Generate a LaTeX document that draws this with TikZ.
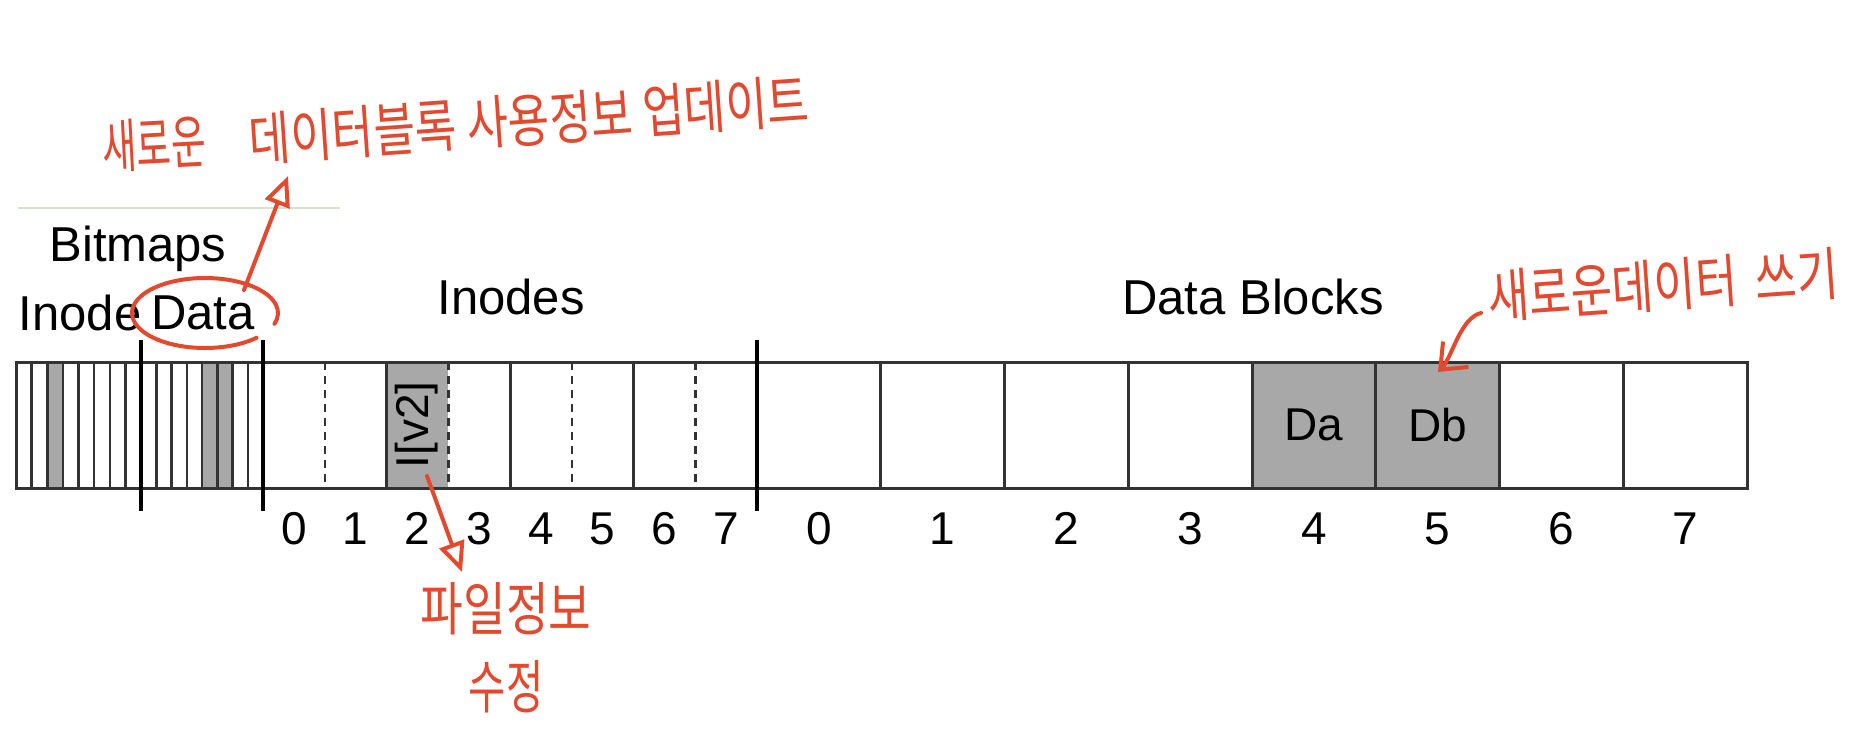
\documentclass[tikz,border=0pt]{standalone}
\usepackage{fontspec}
\usepackage{graphicx}
\setmainfont{Liberation Sans}
\newfontfamily\krfont{Noto Sans CJK KR}
\usetikzlibrary{arrows.meta}
\definecolor{redc}{HTML}{E2492F}
\definecolor{cellgray}{HTML}{A8A8A8}
\definecolor{edge}{HTML}{333333}
\definecolor{greenline}{HTML}{D3E4CC}
\newcommand\lblfont{\fontsize{49}{58}\selectfont}
\newcommand\numfont{\fontsize{46}{54}\selectfont}
\newcommand\handfont{\krfont\fontsize{58}{78}\selectfont}
\begin{document}
\begin{tikzpicture}[x=1pt,y=-1pt,
  lbl/.style={font=\lblfont, inner sep=0},
  num/.style={font=\numfont, inner sep=0, anchor=base},
  blk/.style={draw=edge, line width=3pt, minimum width=123.75pt, minimum height=126pt, inner sep=0, outer sep=0, font=\numfont},
  iblk/.style={blk, minimum width=123.5pt},
  islot/.style={inner sep=0, outer sep=0, minimum width=61.75pt, minimum height=126pt},
  stripe/.style={draw=edge, line width=2.5pt},
  divider/.style={draw=black, line width=3.5pt},
  dashline/.style={draw=edge, line width=2.5pt, dash pattern=on 8pt off 6pt},
  hand/.style={font=\handfont, text=redc, inner sep=0},
  redline/.style={draw=redc, line width=4pt, line cap=round, line join=round},
  redarrow/.style={redline, -{Triangle[open, length=30pt, width=26pt, line width=4pt]}},
  redbarb/.style={redline, -{Straight Barb[length=22pt, width=36pt, line width=4pt]}}
]
\useasboundingbox (0,0) rectangle (1876,728);

% green rule
\draw[greenline, line width=2pt] (18,208) -- (340,208);

% ---------- bitmaps ----------
\fill[cellgray] (47.25,362) rectangle (62.875,488);
\fill[cellgray] (202,362) rectangle (232.5,488);
\node[inner sep=0, outer sep=0, minimum width=247pt, minimum height=126pt, draw=edge, line width=3pt] (bm) at (139.5,425) {};
\foreach \k in {1,...,7} \draw[stripe] ({16+\k*15.625},362) -- ++(0,126);
\foreach \k in {1,...,7} \draw[stripe] ({141+\k*15.25},362) -- ++(0,126);

% ---------- inodes ----------
\node[islot, fill=cellgray] (in2) at (417.375,425) {};
\foreach \k in {0,...,3} \node[iblk] (ib\k) at ({324.75+\k*123.5},425) {};
\foreach \k in {0,...,3} \draw[dashline] ({324.75+\k*123.5},362) -- ++(0,126);
\node[font=\numfont, rotate=90, inner sep=0] (v2) at (417,425) {I[v2]};

% ---------- data blocks ----------
\foreach \k in {0,1,2,3,6,7} \node[blk] (d\k) at ({818.875+\k*123.75},425) {};
\node[blk, fill=cellgray] (d4) at ({818.875+4*123.75},425) {Da};
\node[blk, fill=cellgray] (d5) at ({818.875+5*123.75},425) {Db};

% dividers
\draw[divider] (141,340) -- (141,511);
\draw[divider] (263,340) -- (263,511);
\draw[divider] (757,340) -- (757,511);

% ---------- numbers ----------
\foreach \k in {0,...,7} \node[num] (ni\k) at ({294+\k*61.75},544) {\k};
\foreach \k in {0,...,7} \node[num] (nd\k) at ({818.875+\k*123.75},544) {\k};

% ---------- labels ----------
\node[lbl] (bitmaps) at (138,249) {Bitmaps};
\node[lbl] (ibm) at (80,313) {Inode};
\node[lbl] (dbm) at (203,313) {Data};
\node[lbl] (inodes) at (511,297) {Inodes};
\node[lbl] (datablocks) at (1253,297) {Data Blocks};

% ---------- red annotations ----------
\draw[redline] (205,313) ++(45:73 and 35) arc[start angle=45, end angle=378, x radius=73, y radius=35];

\node[hand, rotate=3] (t1) at (154,144) {\scalebox{0.65}[1]{새로운}};
\node[hand, rotate=4] (t2) at (529,120) {\scalebox{0.78}[1]{데이터블록 사용정보 업데이트}};
\node[hand, rotate=4] (t3) at (1663,285) {\scalebox{0.78}[1]{새로운데이터\hspace{0.4em}쓰기}};
\node[hand, align=center] (t4) at (506,648) {\scalebox{0.8}[1]{파일정보}\\\scalebox{0.7}[1]{수정}};

\coordinate (a1s) at (427,476);
\coordinate (a1e) at (462,572);
\draw[redarrow] (a1s) -- (a1e);

\coordinate (a2s) at (244,290);
\coordinate (a2e) at (288,176);
\draw[redarrow] (a2s) -- (a2e);

\coordinate (a3s) at (1481,313);
\coordinate (a3e) at (1438,372);
\draw[redbarb] (a3s) .. controls (1460,318) and (1452,358) .. (a3e);
\end{tikzpicture}
\end{document}
